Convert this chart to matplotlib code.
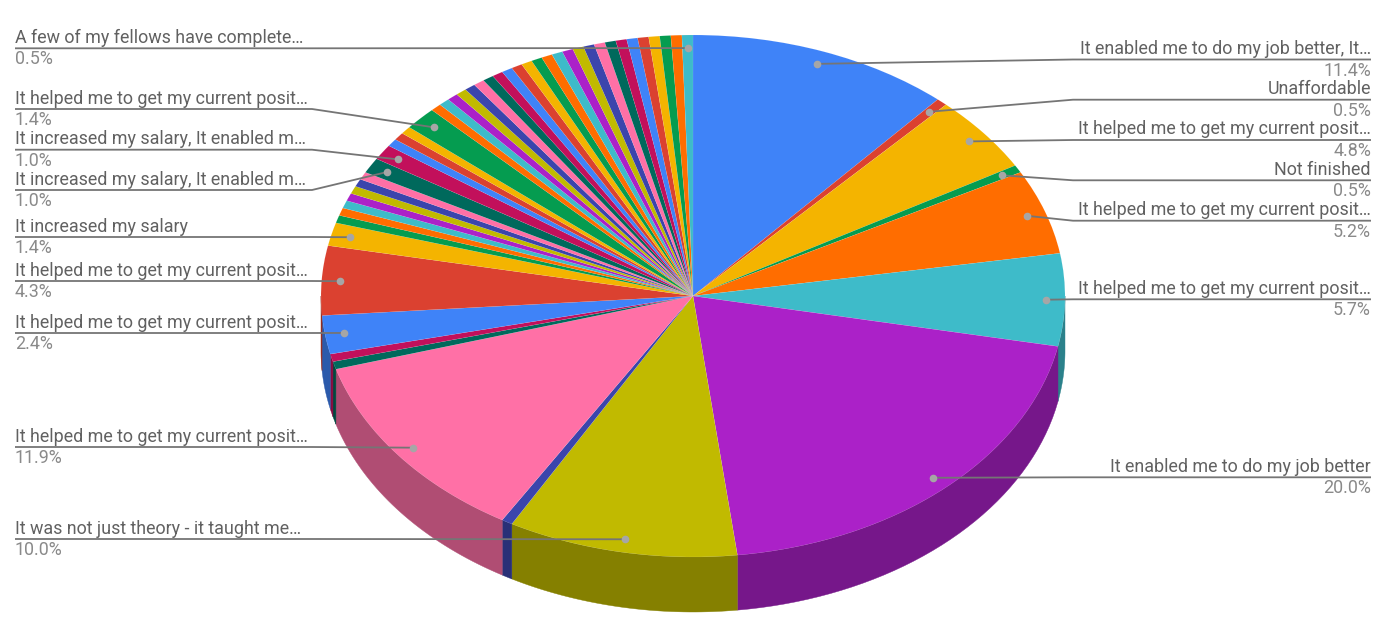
import numpy as np
import matplotlib
matplotlib.use("Agg")
import matplotlib.pyplot as plt
from matplotlib.colors import to_rgb
from matplotlib.patches import Polygon

plt.rcParams['font.family'] = ['Roboto', 'DejaVu Sans']

# Response counts per slice, clockwise from 12 o'clock
counts = [24, 1, 10, 1, 11, 12, 42, 21, 1, 25, 1, 1, 5, 9, 3,
          1, 1, 1, 1, 1, 1, 1, 2, 2, 1, 1, 1, 3,
          1, 1, 1, 1, 1, 1, 1, 1, 1, 1, 1, 1, 1, 1, 1, 1, 1, 1, 1, 1, 1, 1, 1, 1, 1, 1]
palette = ['#3F83F8', '#DB4130', '#F4B400', '#059C50', '#FF6D00', '#3EBBC9',
           '#AB21C8', '#C1BA00', '#3B45AC', '#FF70A6', '#00695C', '#C2105B']

label_slices = [0, 1, 2, 3, 4, 5, 6, 7, 9, 12, 13, 14, 22, 23, 27, 53]
label_names = ["It enabled me to do my job better, It…", "Unaffordable",
               "It helped me to get my current posit…", "Not finished",
               "It helped me to get my current posit…", "It helped me to get my current posit…",
               "It enabled me to do my job better", "It was not just theory - it taught me…",
               "It helped me to get my current posit…", "It helped me to get my current posit…",
               "It helped me to get my current posit…", "It increased my salary",
               "It increased my salary, It enabled m…", "It increased my salary, It enabled m…",
               "It helped me to get my current posit…", "A few of my fellows have complete…"]
label_pcts = ["11.4%", "0.5%", "4.8%", "0.5%", "5.2%", "5.7%", "20.0%", "10.0%",
              "11.9%", "2.4%", "4.3%", "1.4%", "1.0%", "1.0%", "1.4%", "0.5%"]
label_line_y = [59.5, 99.7, 140, 180.3, 220.7, 299.3, 477.3, 539, 447, 333, 281, 237, 190, 149.7, 109, 48.3]
label_side = ['R', 'R', 'R', 'R', 'R', 'R', 'R', 'L', 'L', 'L', 'L', 'L', 'L', 'L', 'L', 'L']

W, H = 1400, 630
CX, CY, RX, RY, DEPTH = 693, 296, 372, 261, 55
fig = plt.figure(figsize=(W / 100, H / 100), dpi=100, facecolor='white')
ax = fig.add_axes([0, 0, 1, 1])
slice_colors = [palette[i % len(palette)] for i in range(len(counts))]
ax.pie(counts, colors=slice_colors, startangle=90, counterclock=False, radius=1,
       wedgeprops=dict(linewidth=0.2, edgecolor=(1, 1, 1, 0.2)))
ax.set_aspect('auto')
ax.set_xlim((0 - CX) / RX, (W - CX) / RX)
ax.set_ylim((CY - H) / RY, CY / RY)
ax.axis('off')


def px(x, y):
    return (x - CX) / RX, (CY - y) / RY


# Front wall of the disc
fractions = np.cumsum([0] + counts) / sum(counts)
depth = DEPTH / RY
for i, color in enumerate(slice_colors):
    a0, a1 = 2 * np.pi * fractions[i], 2 * np.pi * fractions[i + 1]
    # clip to the front half (clockwise angle from the top between 90 and 270 degrees)
    a0, a1 = max(a0, np.pi / 2), min(a1, 3 * np.pi / 2)
    if a1 <= a0:
        continue
    t = np.linspace(a0, a1, 40)
    x, y = np.sin(t), np.cos(t)
    pts = np.r_[np.c_[x, y], np.c_[x, y - depth][::-1]]
    dark = tuple(c * 0.69 for c in to_rgb(color))
    ax.add_patch(Polygon(pts, closed=True, fc=dark, ec=dark, lw=0.3, zorder=0))

# Leader lines, dots and labels
LINE = '#757575'
DOT = '#A6A6A6'
for idx, name, pct, ly, side in zip(label_slices, label_names, label_pcts, label_line_y, label_side):
    mid = 2 * np.pi * (fractions[idx] + fractions[idx + 1]) / 2
    dx, dy = 0.95 * np.sin(mid), 0.95 * np.cos(mid)
    if side == 'R':
        end_x, elbow_x, ha = 1371, 1073, 'right'
    else:
        end_x, elbow_x, ha = 15, 312, 'left'
    ex, ey = px(elbow_x, ly)
    tx, ty = px(end_x, ly)
    ax.plot([dx, ex, tx], [dy, ey, ty], color=LINE, lw=1.3, zorder=5, solid_capstyle='butt')
    ax.plot([dx], [dy], 'o', ms=5.5, color=DOT, mew=0, zorder=6)
    ax.text(end_x / W, 1 - (ly - 5.5) / H, name, transform=ax.transAxes, ha=ha, va='baseline',
            fontsize=12.9, color='#616161')
    ax.text(end_x / W, 1 - (ly + 16) / H, pct, transform=ax.transAxes, ha=ha, va='baseline',
            fontsize=12.9, color='#8A8A8A')

fig.savefig('out.png', dpi=100, facecolor='white')
